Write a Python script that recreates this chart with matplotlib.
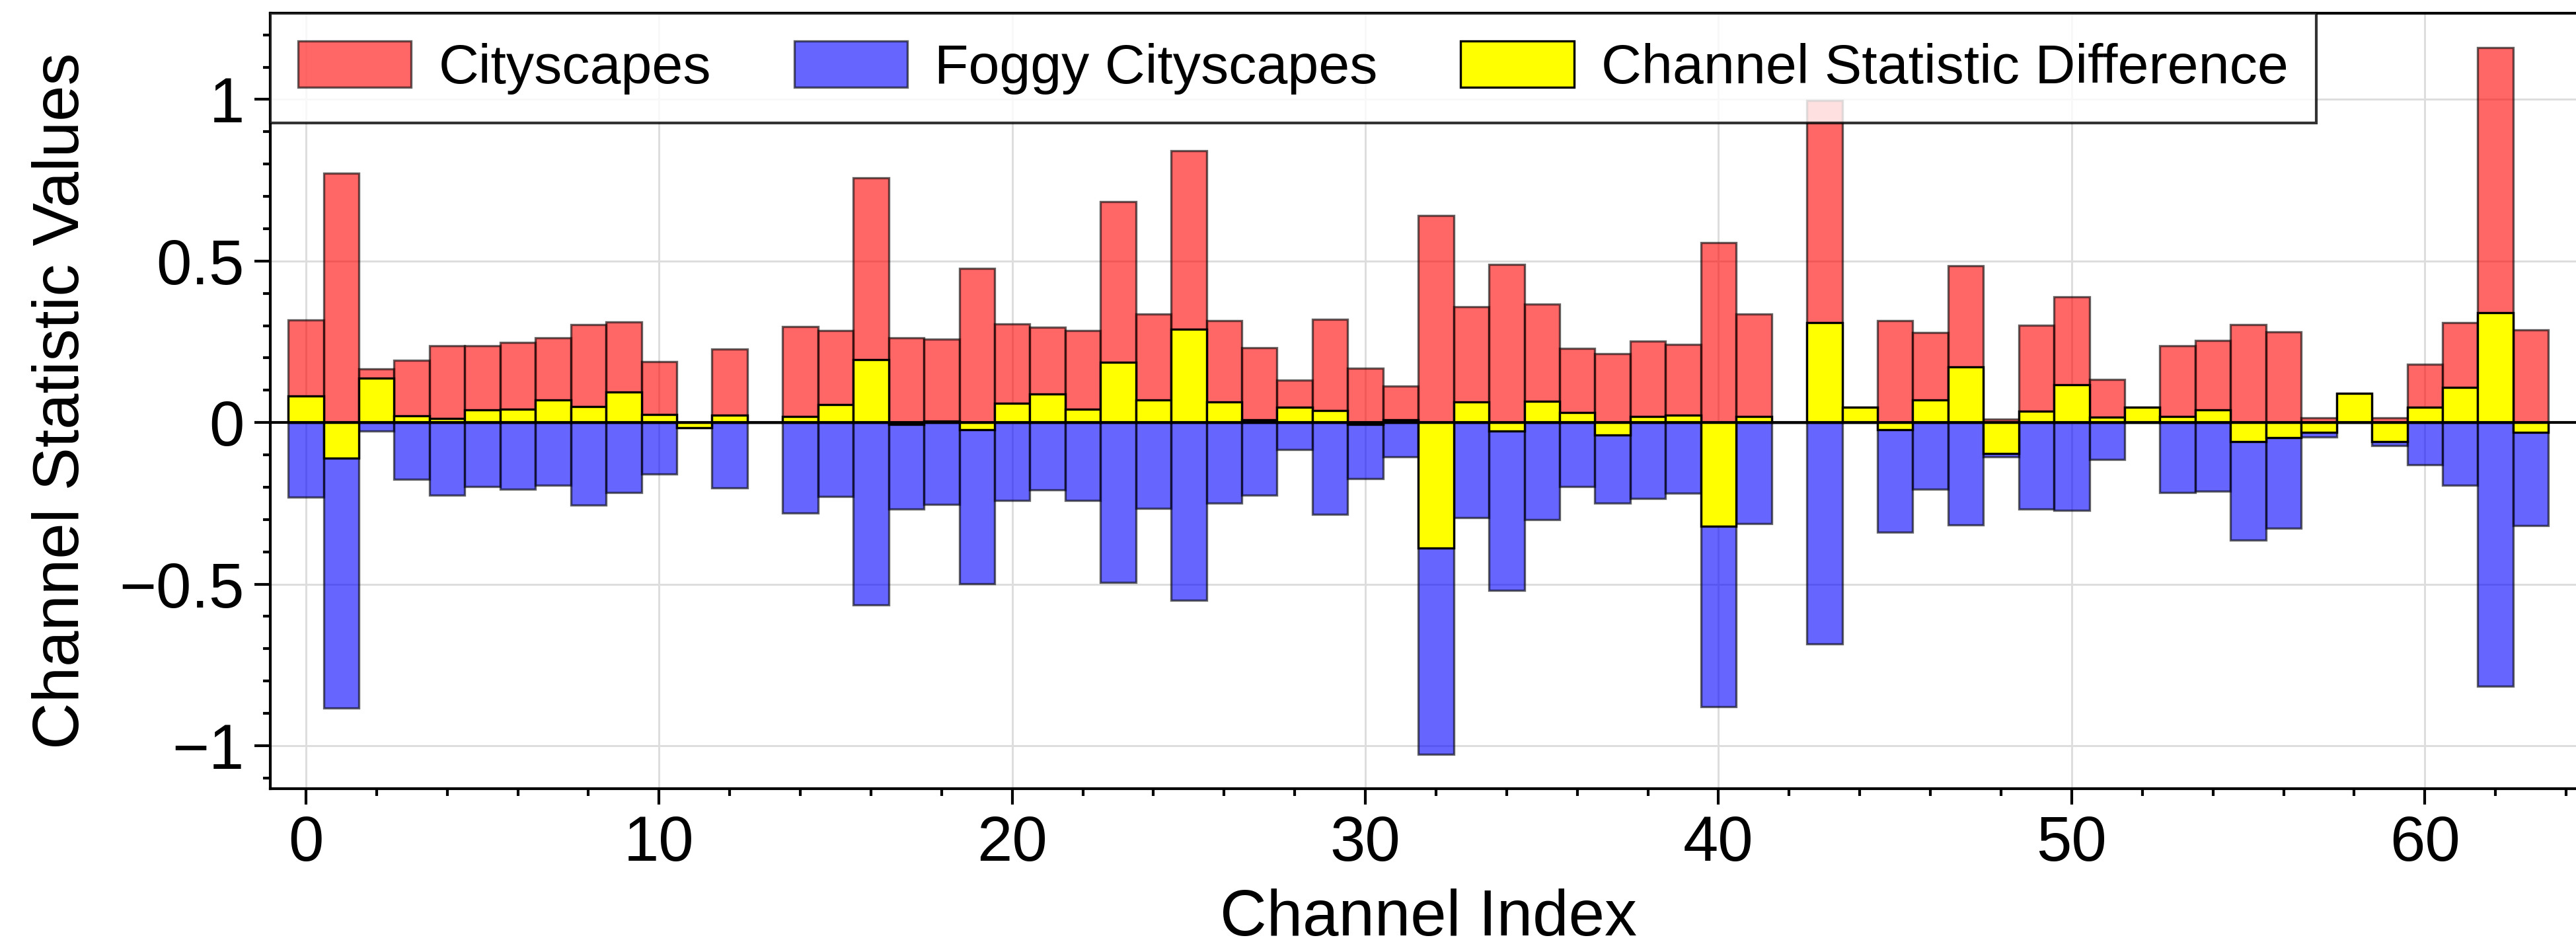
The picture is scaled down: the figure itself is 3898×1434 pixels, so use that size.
import matplotlib
matplotlib.use("Agg")
import matplotlib.pyplot as plt
from matplotlib.ticker import MultipleLocator, FuncFormatter

plt.rcParams['font.family'] = ['Liberation Sans', 'DejaVu Sans']

channels = list(range(64))

cityscapes = [0.317, 0.771, 0.167, 0.193, 0.238, 0.238, 0.248, 0.263, 0.304, 0.312,
              0.188, 0.0, 0.227, 0.0, 0.297, 0.284, 0.758, 0.263, 0.258, 0.477,
              0.305, 0.296, 0.284, 0.684, 0.335, 0.841, 0.315, 0.232, 0.131, 0.320,
              0.168, 0.113, 0.640, 0.359, 0.490, 0.366, 0.230, 0.214, 0.253, 0.242,
              0.557, 0.335, 0.0, 0.996, 0.047, 0.315, 0.279, 0.485, 0.011, 0.302,
              0.389, 0.134, 0.047, 0.238, 0.255, 0.304, 0.281, 0.015, 0.091, 0.015,
              0.180, 0.309, 1.160, 0.286]

foggy = [-0.230, -0.884, -0.026, -0.176, -0.225, -0.199, -0.206, -0.194, -0.256, -0.217,
         -0.160, -0.015, -0.203, 0.0, -0.279, -0.229, -0.564, -0.268, -0.253, -0.498,
         -0.242, -0.209, -0.242, -0.495, -0.266, -0.549, -0.250, -0.224, -0.083, -0.283,
         -0.173, -0.105, -1.026, -0.294, -0.519, -0.301, -0.199, -0.250, -0.234, -0.219,
         -0.879, -0.312, 0.0, -0.686, 0.0, -0.340, -0.207, -0.317, -0.106, -0.268,
         -0.271, -0.114, 0.0, -0.217, -0.212, -0.363, -0.327, -0.044, 0.0, -0.072,
         -0.131, -0.193, -0.815, -0.318]

difference = [0.083, -0.111, 0.137, 0.020, 0.013, 0.039, 0.042, 0.069, 0.049, 0.095,
              0.025, -0.015, 0.023, 0.0, 0.018, 0.056, 0.194, -0.005, 0.005, -0.023,
              0.059, 0.088, 0.042, 0.186, 0.070, 0.289, 0.064, 0.008, 0.047, 0.038,
              -0.005, 0.008, -0.389, 0.064, -0.026, 0.065, 0.031, -0.038, 0.018, 0.023,
              -0.320, 0.018, 0.0, 0.310, 0.047, -0.023, 0.070, 0.172, -0.095, 0.036,
              0.118, 0.016, 0.047, 0.018, 0.039, -0.059, -0.046, -0.031, 0.091, -0.059,
              0.047, 0.109, 0.341, -0.031]

labels = ["Cityscapes", "Foggy Cityscapes", "Channel Statistic Difference"]

W, H, DPI = 3898, 1434, 300
fig = plt.figure(figsize=(W / DPI, H / DPI), dpi=DPI)

x_lo, x_hi = -1.014, 64.6
px_per_unit = 53.44
left = 408.7 / W
bottom = (H - 1193.4) / H
height = (1193.4 - 20) / H
width = (x_hi - x_lo) * px_per_unit / W
ax = fig.add_axes([left, bottom, width, height])

ax.set_axisbelow(True)
ax.grid(True, which='major', color='#dddddd', linewidth=0.7)

ax.bar(channels, cityscapes, width=1.0, color='red', alpha=0.6,
       edgecolor='black', linewidth=0.8, label=labels[0], zorder=2)
ax.bar(channels, foggy, width=1.0, color='blue', alpha=0.6,
       edgecolor='black', linewidth=0.8, label=labels[1], zorder=2)
ax.bar(channels, difference, width=1.0, color='yellow',
       edgecolor='black', linewidth=0.8, label=labels[2], zorder=3)
ax.axhline(0, color='black', linewidth=1.0, zorder=4)

ax.set_xlim(x_lo, x_hi)
ax.set_ylim(-1.134, 1.267)

ax.xaxis.set_major_locator(MultipleLocator(10))
ax.xaxis.set_minor_locator(MultipleLocator(2))
ax.yaxis.set_major_locator(MultipleLocator(0.5))
ax.yaxis.set_minor_locator(MultipleLocator(0.1))
ax.yaxis.set_major_formatter(FuncFormatter(lambda v, p: ('%g' % v).replace('-', '\u2212')))

ax.tick_params(which='major', direction='out', length=5.8, width=1.0, labelsize=23, pad=3.5)
ax.tick_params(which='minor', direction='out', length=2.6, width=1.0)
ax.tick_params(top=False, right=False, which='both')
for s in ax.spines.values():
    s.set_linewidth(1.0)

ax.set_xlabel("Channel Index", fontsize=23.5, labelpad=5.2)
ax.set_ylabel("Channel Statistic Values", fontsize=23.5, labelpad=10)

leg = ax.legend(loc='upper left', bbox_to_anchor=(0, 1), borderaxespad=0, ncol=3,
                fontsize=20.25, frameon=True, fancybox=False, edgecolor='black',
                framealpha=0.8, handlelength=2.03, handleheight=0.9,
                handletextpad=0.49, columnspacing=1.49, borderpad=0.5)
leg.get_frame().set_linewidth(1.0)
leg.set_zorder(10)

fig.savefig("out.png", dpi=DPI)
